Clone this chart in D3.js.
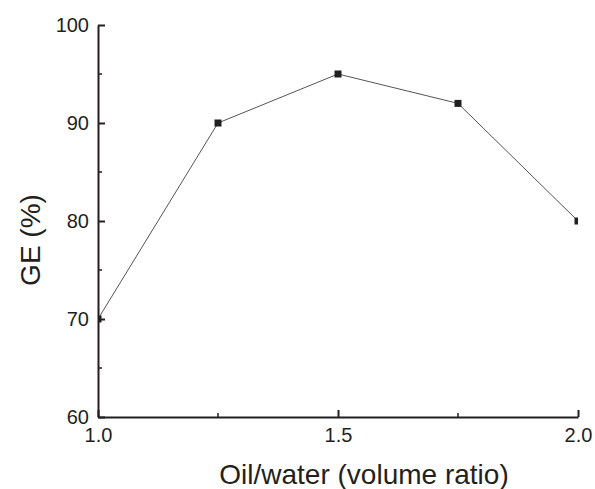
<!DOCTYPE html>
<html>
<head>
<meta charset="utf-8">
<script src="https://cdn.jsdelivr.net/npm/d3@7"></script>
<style>
  body { margin: 0; background: #fff; }
  text { font-family: "Liberation Sans", Arial, sans-serif; fill: #231f20; }
</style>
</head>
<body>
<div id="plot"></div>
<script>
(function() {
"use strict";

// data
const ratios = [1.0, 1.25, 1.5, 1.75, 2.0];
const ge = [70, 90, 95, 92, 80];
const xTicks = [1.0, 1.5, 2.0];
const xMinor = [1.25, 1.75];
const yTicks = [60, 70, 80, 90, 100];
const yMinor = [65, 75, 85, 95];

const WIDTH = 595;
const HEIGHT = 489;
const LEFT = 98, RIGHT = 578, TOP = 25, BOTTOM = 417;
const INK = "#231f20";
const FONT = "Liberation Sans, Arial, sans-serif";

const svg = d3.select("#plot")
  .append("svg")
  .attr("width", WIDTH)
  .attr("height", HEIGHT);

const xScale = d3.scaleLinear().domain([1.0, 2.0]).range([LEFT, RIGHT]);
const yScale = d3.scaleLinear().domain([60, 100]).range([BOTTOM, TOP]);

// ticks point inward, minor ones shorter
const xAxis = d3.axisBottom(xScale).tickValues(xTicks).tickFormat(d3.format(".1f"))
  .tickSizeInner(-7).tickSizeOuter(0).tickPadding(11);
const yAxis = d3.axisLeft(yScale).tickValues(yTicks).tickFormat(d3.format("d"))
  .tickSizeInner(-7).tickSizeOuter(0).tickPadding(9);

const gx = svg.append("g")
  .attr("transform", `translate(0, ${BOTTOM})`)
  .call(xAxis);
gx.select(".domain").attr("stroke", INK).attr("stroke-width", 2);
gx.selectAll(".tick line").attr("stroke", INK).attr("stroke-width", 2);
gx.selectAll(".tick text").attr("font-size", 20).attr("fill", INK).attr("font-family", FONT);

gx.selectAll(".minor")
  .data(xMinor)
  .enter()
  .append("line")
    .attr("x1", d => xScale(d)).attr("x2", d => xScale(d))
    .attr("y1", 0).attr("y2", -4)
    .attr("stroke", INK).attr("stroke-width", 1.5);

const gy = svg.append("g")
  .attr("transform", `translate(${LEFT}, 0)`)
  .call(yAxis);
gy.select(".domain").attr("stroke", INK).attr("stroke-width", 2);
gy.selectAll(".tick line").attr("stroke", INK).attr("stroke-width", 2);
gy.selectAll(".tick text").attr("font-size", 20).attr("fill", INK).attr("font-family", FONT);

gy.selectAll(".minor")
  .data(yMinor)
  .enter()
  .append("line")
    .attr("y1", d => yScale(d)).attr("y2", d => yScale(d))
    .attr("x1", 0).attr("x2", 4)
    .attr("stroke", INK).attr("stroke-width", 1.5);

// clip so edge markers are cut at the frame
svg.append("clipPath").attr("id", "clip")
  .append("rect")
    .attr("x", LEFT).attr("y", TOP)
    .attr("width", RIGHT - LEFT).attr("height", BOTTOM - TOP);

const plot = svg.append("g").attr("clip-path", "url(#clip)");

const data = ratios.map((r, i) => ({ x: r, y: ge[i] }));

plot.append("path")
  .datum(data)
  .attr("fill", "none")
  .attr("stroke", "#555")
  .attr("stroke-width", 1)
  .attr("d", d3.line().x(d => xScale(d.x)).y(d => yScale(d.y)));

plot.selectAll("rect.dot")
  .data(data)
  .enter()
  .append("rect")
    .attr("class", "dot")
    .attr("x", d => xScale(d.x) - 3.5)
    .attr("y", d => yScale(d.y) - 3.5)
    .attr("width", 7)
    .attr("height", 7)
    .attr("fill", INK);

// axis titles
svg.append("text")
  .attr("x", 364)
  .attr("y", 484)
  .attr("text-anchor", "middle")
  .attr("font-size", 28)
  .text("Oil/water (volume ratio)");

svg.append("text")
  .attr("transform", "translate(40, 240) rotate(-90)")
  .attr("text-anchor", "middle")
  .attr("font-size", 28)
  .text("GE (%)");

})();
</script>
</body>
</html>
